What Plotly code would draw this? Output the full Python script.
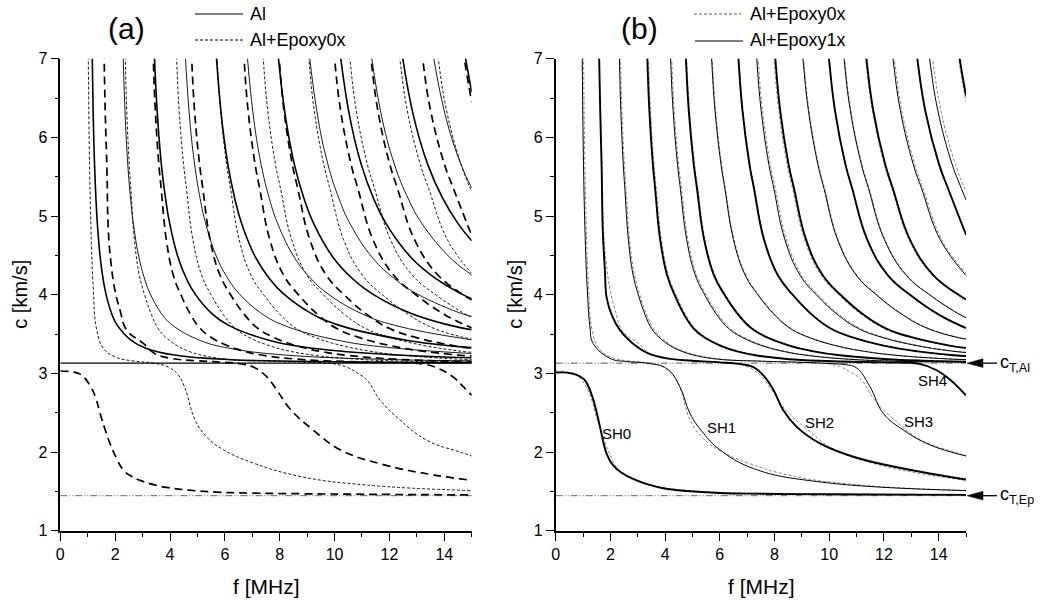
import plotly.graph_objects as go

# ---------------- data ----------------
F_MAX = 15.0
CT_AL = 3.13      # km/s, transverse velocity Al
CT_EP = 1.445     # km/s, transverse velocity epoxy

# Al plate: higher SH modes, frequency (MHz) at which each mode reaches the c levels below
AL_C_LEVELS = [7.51, 6.34, 5.66, 5.22, 4.90, 4.47, 4.20, 4.01, 3.76, 3.61, 3.415, 3.32, 3.233, 3.174, 3.146]
AL_MODE_F = [
    [1.144, 1.196, 1.248, 1.30, 1.352, 1.456, 1.56, 1.664, 1.872, 2.08, 2.60, 3.12, 4.16, 6.24, 10.4],
    [2.255, 2.358, 2.46, 2.563, 2.665, 2.87, 3.075, 3.28, 3.69, 4.10, 5.125, 6.15, 8.20, 12.3],
    [3.377, 3.531, 3.684, 3.838, 3.991, 4.298, 4.605, 4.912, 5.526, 6.14, 7.675, 9.21, 12.28],
    [4.488, 4.692, 4.896, 5.10, 5.304, 5.712, 6.12, 6.528, 7.344, 8.16, 10.2, 12.24],
    [5.599, 5.854, 6.108, 6.363, 6.617, 7.126, 7.635, 8.144, 9.162, 10.18, 12.725],
    [6.71, 7.015, 7.32, 7.625, 7.93, 8.54, 9.15, 9.76, 10.98, 12.2],
    [7.821, 8.177, 8.532, 8.888, 9.243, 9.954, 10.665, 11.376, 12.798, 14.22],
    [8.943, 9.35, 9.756, 10.163, 10.569, 11.382, 12.195, 13.008, 14.634],
    [10.054, 10.511, 10.968, 11.425, 11.882, 12.796, 13.71, 14.624],
    [11.165, 11.673, 12.18, 12.688, 13.195, 14.21],
    [12.276, 12.834, 13.392, 13.95, 14.508],
    [13.387, 13.996, 14.604],
    [14.509],
]
AL_MODE_END_C = [3.137, 3.160, 3.198, 3.253, 3.327, 3.426, 3.555, 3.725, 3.948, 4.251, 4.685, 5.355, 6.573]
AL_SH0_F = [0.0, 15.0]
AL_SH0_C = [3.13, 3.13]

# Al + epoxy layer: c levels used for the upper branches
EP_C_LEVELS = [7.6, 7.0, 6.34, 5.66, 5.35, 4.70, 4.25, 3.99, 3.74, 3.57, 3.46, 3.35, 3.28, 3.23, 3.18, 3.155]

# ---- Al+Epoxy0x ----
EP0_SH0_F = [0, 0.4, 0.72, 1.08, 1.30, 1.45, 1.63, 1.81, 2.05, 2.30, 2.60, 2.91, 3.40, 3.88, 4.70, 5.70, 7.0, 8.74, 11.5, 15]
EP0_SH0_C = [3.03, 3.02, 2.99, 2.85, 2.68, 2.49, 2.29, 2.11, 1.92, 1.77, 1.69, 1.64, 1.585, 1.55, 1.515, 1.49, 1.478, 1.47, 1.462, 1.455]
EP0_SH1_F = [1.00, 1.02, 1.06, 1.12, 1.20, 1.33, 1.57, 1.99, 2.6, 3.4, 3.94, 4.3, 4.55, 4.91, 5.34, 5.94, 7.04, 8.74, 11.17, 15]
EP0_SH1_C = [7.6, 7.0, 5.8, 4.82, 4.1, 3.55, 3.32, 3.21, 3.16, 3.13, 3.08, 2.98, 2.81, 2.41, 2.19, 2.03, 1.86, 1.69, 1.58, 1.51]
EP0_SH2_F = [1.58, 1.60, 1.64, 1.70, 1.75, 1.85, 1.99, 2.18, 2.42, 3.03, 3.45, 4.06, 5.0, 6.0, 6.6, 7.04, 7.52, 7.89, 8.37, 9.22, 10.2, 11.78, 13.6, 15]
EP0_SH2_C = [7.6, 7.0, 6.3, 5.6, 4.82, 4.4, 4.06, 3.8, 3.55, 3.38, 3.25, 3.19, 3.16, 3.14, 3.12, 3.08, 2.96, 2.79, 2.55, 2.28, 2.03, 1.84, 1.71, 1.64]
EP0_SH3_UP_F = [2.334, 2.37, 2.422, 2.512, 2.571, 2.702, 2.880, 3.081, 3.330, 3.567, 3.839, 4.266, 4.693, 5.167, 6.044]
EP0_SH3_TAIL_F = [7.5, 9.0, 10.0, 10.44, 10.8, 11.17, 11.66, 12.38, 13.36, 14.57, 15]
EP0_SH3_TAIL_C = [3.155, 3.14, 3.12, 3.08, 3.01, 2.92, 2.66, 2.41, 2.15, 2.0, 1.95]
EP0_SH4_UP_F = [3.339, 3.39, 3.465, 3.593, 3.678, 3.865, 4.119, 4.407, 4.763, 5.102, 5.492, 6.102, 6.712, 7.390, 8.645]
EP0_SH4_TAIL_F = [10.5, 12.0, 13.3, 13.8, 14.3, 14.7, 15]
EP0_SH4_TAIL_C = [3.15, 3.14, 3.115, 3.06, 2.96, 2.83, 2.72]
EP0_MODE_F = [   # SH5 ... SH18
    [4.176, 4.24, 4.333, 4.494, 4.600, 4.834, 5.152, 5.512, 5.957, 6.381, 6.869, 7.632, 8.395, 9.243, 10.812, 12.508],
    [4.718, 4.79, 4.895, 5.077, 5.197, 5.461, 5.820, 6.227, 6.730, 7.209, 7.760, 8.622, 9.484, 10.442, 12.215, 14.131],
    [5.634, 5.72, 5.846, 6.063, 6.206, 6.521, 6.950, 7.436, 8.037, 8.609, 9.266, 10.296, 11.326, 12.470, 14.586],
    [6.600, 6.70, 6.847, 7.102, 7.270, 7.638, 8.141, 8.710, 9.414, 10.084, 10.854, 12.060, 13.266, 14.606],
    [7.289, 7.40, 7.563, 7.844, 8.029, 8.436, 8.991, 9.620, 10.397, 11.137, 11.988, 13.320, 14.652],
    [7.860, 7.98, 8.156, 8.459, 8.658, 9.097, 9.696, 10.374, 11.212, 12.010, 12.928, 14.364],
    [8.924, 9.06, 9.259, 9.604, 9.830, 10.328, 11.008, 11.778, 12.729, 13.635, 14.677],
    [9.85, 10.0, 10.22, 10.60, 10.85, 11.40, 12.15, 13.00, 14.05],
    [10.402, 10.56, 10.792, 11.194, 11.458, 12.038, 12.830, 13.728, 14.837],
    [11.160, 11.33, 11.579, 12.010, 12.293, 12.916, 13.766, 14.729],
    [12.194, 12.38, 12.652, 13.123, 13.432, 14.113],
    [13.012, 13.21, 13.501, 14.003, 14.333],
    [13.573, 13.78, 14.083, 14.607],
    [14.509, 14.73],
]
EP0_MODE_END_C = [3.143, 3.148, 3.176, 3.222, 3.268, 3.319, 3.438, 3.578, 3.715, 3.933, 4.27, 4.753, 5.31, 6.45]

# ---- Al+Epoxy1x ----
EP1_SH0_F = [0, 0.4, 0.77, 1.05, 1.25, 1.45, 1.62, 1.86, 2.10, 2.40, 2.70, 2.96, 3.40, 3.93, 4.8, 6.0, 7.5, 9.0, 11.5, 15]
EP1_SH0_C = [3.01, 3.01, 2.98, 2.92, 2.79, 2.57, 2.32, 1.98, 1.83, 1.74, 1.68, 1.64, 1.585, 1.54, 1.505, 1.48, 1.47, 1.465, 1.46, 1.455]
EP1_SH1_F = [0.95, 0.97, 1.01, 1.07, 1.15, 1.25, 1.37, 1.99, 2.6, 3.33, 4.06, 4.54, 4.91, 5.40, 6.0, 7.23, 9.66, 15]
EP1_SH1_C = [7.6, 7.0, 5.8, 4.82, 4.1, 3.6, 3.38, 3.19, 3.15, 3.13, 3.06, 2.83, 2.49, 2.24, 2.03, 1.79, 1.62, 1.51]
EP1_SH2_F = [1.57, 1.59, 1.63, 1.68, 1.72, 1.80, 1.86, 2.05, 2.35, 2.96, 3.4, 4.06, 5.0, 6.0, 6.7, 7.23, 7.6, 7.96, 8.32, 8.81, 9.66, 10.88, 12.71, 15]
EP1_SH2_C = [7.6, 7.0, 6.3, 5.6, 4.82, 4.3, 3.97, 3.74, 3.55, 3.34, 3.25, 3.19, 3.16, 3.14, 3.12, 3.08, 2.97, 2.79, 2.53, 2.32, 2.11, 1.94, 1.79, 1.65]
EP1_SH3_UP_F = [2.295, 2.33, 2.381, 2.470, 2.528, 2.656, 2.831, 3.029, 3.274, 3.507, 3.775, 4.194, 4.613, 5.079, 5.942]
EP1_SH3_TAIL_F = [7.5, 9.0, 10.0, 10.6, 11.0, 11.49, 11.98, 12.71, 13.69, 15]
EP1_SH3_TAIL_C = [3.155, 3.14, 3.125, 3.11, 3.07, 2.83, 2.49, 2.28, 2.09, 1.95]
EP1_SH4_UP_F = [3.300, 3.35, 3.424, 3.551, 3.635, 3.819, 4.070, 4.355, 4.707, 5.042, 5.427, 6.030, 6.633, 7.303, 8.543]
EP1_SH4_TAIL_F = [10.5, 12.0, 13.3, 13.93, 14.42, 15]
EP1_SH4_TAIL_C = [3.15, 3.14, 3.12, 3.04, 2.92, 2.72]
EP1_MODE_F = [   # SH5 ... SH18
    [4.137, 4.20, 4.292, 4.452, 4.557, 4.788, 5.103, 5.460, 5.901, 6.321, 6.804, 7.560, 8.316, 9.156, 10.71, 12.39],
    [4.689, 4.76, 4.865, 5.046, 5.165, 5.426, 5.783, 6.188, 6.688, 7.164, 7.711, 8.568, 9.425, 10.377, 12.138, 14.042],
    [5.615, 5.70, 5.825, 6.042, 6.185, 6.498, 6.926, 7.410, 8.009, 8.579, 9.234, 10.26, 11.286, 12.426, 14.535],
    [6.580, 6.68, 6.827, 7.081, 7.248, 7.615, 8.116, 8.684, 9.385, 10.053, 10.822, 12.024, 13.226, 14.562],
    [7.240, 7.35, 7.512, 7.791, 7.975, 8.379, 8.930, 9.555, 10.327, 11.062, 11.907, 13.23, 14.553],
    [7.910, 8.03, 8.207, 8.512, 8.713, 9.154, 9.756, 10.439, 11.282, 12.085, 13.009, 14.454],
    [8.904, 9.04, 9.239, 9.582, 9.808, 10.306, 10.984, 11.752, 12.701, 13.605, 14.645],
    [9.840, 9.99, 10.210, 10.589, 10.839, 11.389, 12.138, 12.987, 14.036],
    [10.382, 10.54, 10.772, 11.172, 11.436, 12.016, 12.806, 13.702, 14.809],
    [11.190, 11.36, 11.610, 12.042, 12.326, 12.950, 13.802, 14.768],
    [12.145, 12.33, 12.601, 13.070, 13.378, 14.056],
    [13.022, 13.22, 13.511, 14.013, 14.344],
    [13.465, 13.67, 13.971, 14.490, 14.832],
    [14.548, 14.77],
]
EP1_MODE_END_C = [3.143, 3.148, 3.175, 3.221, 3.265, 3.324, 3.436, 3.576, 3.709, 3.941, 4.245, 4.764, 5.205, 6.532]

SH_LABELS = ["SH0", "SH1", "SH2", "SH3", "SH4"]
SH_LABEL_F = [2.23, 6.07, 9.66, 13.28, 13.77]
SH_LABEL_C = [2.24, 2.31, 2.38, 2.39, 2.91]

# ---------------- build ----------------
FONT = "Arial, Liberation Sans, sans-serif"
W, H = 1042, 603
THIN, THICK = 1.0, 1.9
DASH_THIN, DASH_THICK = "3px,2px", "8px,5px"
DASHDOT = "7px,2px,1px,2px,1px,2px"

fig = go.Figure()


def add(x, y, xa, ya, width, dash="solid", color="black"):
    fig.add_trace(go.Scatter(
        x=x, y=y, mode="lines", xaxis=xa, yaxis=ya, showlegend=False, hoverinfo="skip",
        line=dict(color=color, width=width, dash=dash, shape="spline", smoothing=1.2)))


def level_curve(f_list, levels, end_c):
    return list(f_list) + [F_MAX], list(levels[:len(f_list)]) + [end_c]


def epoxy_curves(sh0, sh1, sh2, sh3, sh4, modes_f, modes_end):
    out = [sh0, sh1, sh2,
           (sh3[0] + sh3[1], EP_C_LEVELS[:len(sh3[0])] + sh3[2]),
           (sh4[0] + sh4[1], EP_C_LEVELS[:len(sh4[0])] + sh4[2])]
    for f_list, end_c in zip(modes_f, modes_end):
        out.append(level_curve(f_list, EP_C_LEVELS, end_c))
    return out


ep0 = epoxy_curves((EP0_SH0_F, EP0_SH0_C), (EP0_SH1_F, EP0_SH1_C), (EP0_SH2_F, EP0_SH2_C),
                   (EP0_SH3_UP_F, EP0_SH3_TAIL_F, EP0_SH3_TAIL_C),
                   (EP0_SH4_UP_F, EP0_SH4_TAIL_F, EP0_SH4_TAIL_C), EP0_MODE_F, EP0_MODE_END_C)
ep1 = epoxy_curves((EP1_SH0_F, EP1_SH0_C), (EP1_SH1_F, EP1_SH1_C), (EP1_SH2_F, EP1_SH2_C),
                   (EP1_SH3_UP_F, EP1_SH3_TAIL_F, EP1_SH3_TAIL_C),
                   (EP1_SH4_UP_F, EP1_SH4_TAIL_F, EP1_SH4_TAIL_C), EP1_MODE_F, EP1_MODE_END_C)

# ---- panel (a) ----
add([0, F_MAX], [CT_EP, CT_EP], "x", "y", 1.0, DASHDOT, "#666")
add(AL_SH0_F, AL_SH0_C, "x", "y", 1.1)
for n, (f_list, end_c) in enumerate(zip(AL_MODE_F, AL_MODE_END_C), start=1):
    x, y = level_curve(f_list, AL_C_LEVELS, end_c)
    add(x, y, "x", "y", THICK - 0.3 if n % 2 else THIN - 0.1)
for k, (x, y) in enumerate(ep0):
    if k % 2 == 0:
        add(x, y, "x", "y", THICK - 0.2, DASH_THICK)
    else:
        add(x, y, "x", "y", THIN - 0.1, DASH_THIN)

# ---- panel (b) ----
add([0, F_MAX], [CT_AL, CT_AL], "x2", "y2", 1.0, DASHDOT, "#555")
add([0, F_MAX], [CT_EP, CT_EP], "x2", "y2", 1.0, DASHDOT, "#666")
for x, y in ep0:
    add(x, y, "x2", "y2", 0.9, DASH_THIN, "#777")
for k, (x, y) in enumerate(ep1):
    add(x, y, "x2", "y2", THICK if k % 2 == 0 else THIN)

# ---------------- axes ----------------
XD_A = [60.3 / W, 471.7 / W]
XD_B = [555.7 / W, 966.0 / W]
YD = [(H - 530.7) / H, (H - 58.7) / H]

base_x = dict(range=[0, F_MAX], showgrid=False, zeroline=False, showline=True, linecolor="black",
              linewidth=1.6, dtick=2, tick0=0, automargin=False,
              tickfont=dict(family=FONT, size=16, color="black"))
base_y = dict(range=[1, 7], showgrid=False, zeroline=False, showline=True, linecolor="black",
              linewidth=1.6, dtick=1, tick0=1, automargin=False,
              tickfont=dict(family=FONT, size=16, color="black"))
out_x = dict(ticks="outside", ticklen=8, tickwidth=1.4, tickcolor="black",
             minor=dict(ticks="outside", ticklen=4, tickwidth=1.2, dtick=1, tickcolor="black"))
out_y = dict(ticks="outside", ticklen=8, tickwidth=1.4, tickcolor="black",
             minor=dict(ticks="outside", ticklen=4, tickwidth=1.2, dtick=0.5, tickcolor="black"))
in_x = dict(ticks="inside", ticklen=7, tickwidth=1.4, tickcolor="black", showticklabels=False,
            minor=dict(ticks="inside", ticklen=4, tickwidth=1.2, dtick=1, tickcolor="black"))
in_y = dict(ticks="inside", ticklen=7, tickwidth=1.4, tickcolor="black", showticklabels=False,
            minor=dict(ticks="inside", ticklen=4, tickwidth=1.2, dtick=0.5, tickcolor="black"))

fig.update_layout(
    width=W, height=H, autosize=False, margin=dict(l=0, r=0, t=0, b=0, pad=0, autoexpand=False),
    paper_bgcolor="white", plot_bgcolor="white", showlegend=False,
    font=dict(family=FONT, color="black"),
    xaxis=dict(domain=XD_A, anchor="y", **base_x, **out_x),
    yaxis=dict(domain=YD, anchor="x", **base_y, **out_y),
    xaxis2=dict(domain=XD_B, anchor="y2", **base_x, **out_x),
    yaxis2=dict(domain=YD, anchor="x2", **base_y, **out_y),
    xaxis3=dict(overlaying="x", side="top", anchor="y", **base_x, **in_x),
    yaxis3=dict(overlaying="y", side="right", anchor="x", **base_y, **in_y),
    xaxis4=dict(overlaying="x2", side="top", anchor="y2", **base_x, **in_x),
    yaxis4=dict(overlaying="y2", side="right", anchor="x2", **base_y, **in_y),
)

ann = []


def text(x, y, s, size, xanchor="center", yanchor="middle", angle=0):
    ann.append(dict(x=x / W, y=1 - y / H, xref="paper", yref="paper", text=s, showarrow=False,
                    xanchor=xanchor, yanchor=yanchor, textangle=angle,
                    font=dict(family=FONT, size=size, color="black")))


text(126, 28, "(a)", 30)
text(639, 28, "(b)", 30)
text(20, 294.7, "c [km/s]", 20, angle=-90)
text(515, 294.7, "c [km/s]", 20, angle=-90)
text(266, 586, "f [MHz]", 21)
text(761, 586, "f [MHz]", 21)
# legends
text(248, 14, "Al", 18, xanchor="left")
text(248, 40, "Al+Epoxy0x", 18, xanchor="left")
text(748, 14, "Al+Epoxy0x", 18, xanchor="left")
text(748, 40, "Al+Epoxy1x", 18, xanchor="left")
# mode labels in (b)
for lab, fx, cy in zip(SH_LABELS, SH_LABEL_F, SH_LABEL_C):
    ann.append(dict(x=fx, y=cy, xref="x2", yref="y2", text=lab, showarrow=False,
                    font=dict(family=FONT, size=15, color="black")))
# c_T labels
for cval, lab in [(CT_AL, "c<sub>T,Al</sub>"), (CT_EP, "c<sub>T,Ep</sub>")]:
    ann.append(dict(x=998 / W, y=cval, xref="paper", yref="y2", text=lab, showarrow=False,
                    xanchor="left", yanchor="middle", font=dict(family=FONT, size=18, color="black")))
fig.update_layout(annotations=ann)

shapes = [
    dict(type="line", xref="paper", yref="paper", x0=195 / W, x1=243 / W, y0=1 - 14 / H, y1=1 - 14 / H,
         line=dict(color="black", width=1.0)),
    dict(type="line", xref="paper", yref="paper", x0=195 / W, x1=243 / W, y0=1 - 40 / H, y1=1 - 40 / H,
         line=dict(color="black", width=1.0, dash=DASH_THIN)),
    dict(type="line", xref="paper", yref="paper", x0=694 / W, x1=741 / W, y0=1 - 14 / H, y1=1 - 14 / H,
         line=dict(color="#555", width=1.0, dash=DASH_THIN)),
    dict(type="line", xref="paper", yref="paper", x0=695 / W, x1=743 / W, y0=1 - 41 / H, y1=1 - 41 / H,
         line=dict(color="black", width=1.0)),
]
# arrows pointing at the c_T levels on the right axis of (b)
for cval in (CT_AL, CT_EP):
    shapes.append(dict(type="line", xref="paper", yref="y2", x0=978 / W, x1=997 / W, y0=cval, y1=cval,
                       line=dict(color="black", width=1.3)))
    shapes.append(dict(type="path", xref="paper", yref="y2",
                       path=f"M {967 / W},{cval} L {983 / W},{cval + 0.055} L {983 / W},{cval - 0.055} Z",
                       fillcolor="black", line=dict(color="black", width=0.5)))
fig.update_layout(shapes=shapes)

fig.write_html("out.html", config={"displayModeBar": False},
               post_script="document.body.style.margin='0px';")
